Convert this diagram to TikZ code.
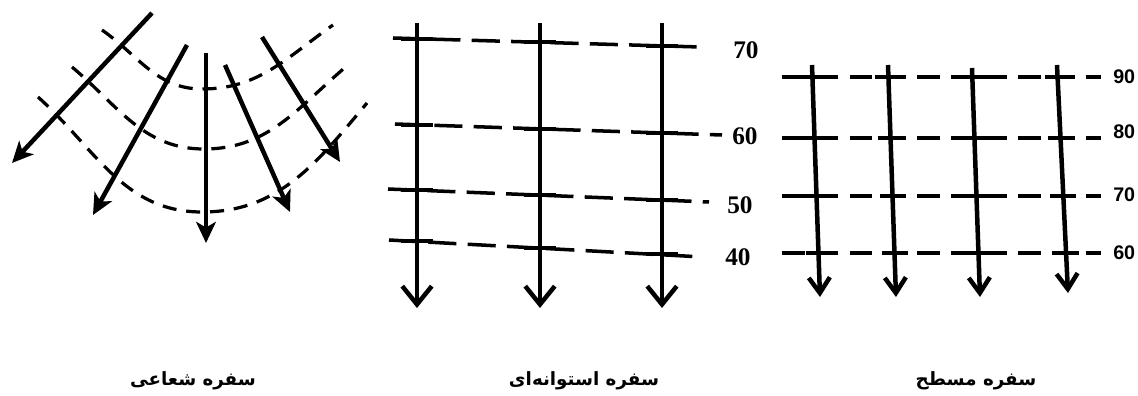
\documentclass[tikz,border=0pt]{standalone}
\usepackage{fontspec}
\setmainfont{Liberation Serif}
\newfontfamily\arialfont{Liberation Sans}
\newfontfamily\arabicfont[Script=Arabic]{DejaVu Sans}
\TeXXeTstate=1
\usetikzlibrary{arrows.meta}

\begin{document}
\begin{tikzpicture}[x=0.025cm, y=0.025cm,
    flow/.style={line width=3.2pt},
    rayhead/.style={-{Stealth[length=15pt,width=14pt,inset=4pt]}},
    cylhead/.style={-{Straight Barb[length=13pt,width=21pt]}},
    planehead/.style={-{Straight Barb[length=11pt,width=15pt]}},
    front/.style={line width=2.3pt, dash pattern=on 10pt off 7pt},
    cylline/.style={line width=2.5pt, dash pattern=on 20pt off 8pt},
    planeline/.style={line width=2.3pt, dash pattern=on 16pt off 8pt},
    crossmark/.style={line width=2.5pt},
    num/.style={anchor=west, inner sep=0pt, font=\bfseries\fontsize{18}{18}\selectfont},
    numsf/.style={anchor=west, inner sep=0pt, font=\arialfont\bfseries\fontsize{14}{14}\selectfont},
    caption/.style={inner sep=0pt, font=\arabicfont\bfseries\fontsize{13}{16}\selectfont}]
  \useasboundingbox (0,0) rectangle (1138,395);

  % radial flow
  \coordinate (r1s) at (152,382); \coordinate (r1e) at (12,232);
  \coordinate (r2s) at (187,350); \coordinate (r2e) at (93,180);
  \coordinate (r3s) at (206,342); \coordinate (r3e) at (206,152);
  \coordinate (r4s) at (225,330); \coordinate (r4e) at (290,183);
  \coordinate (r5s) at (262,358); \coordinate (r5e) at (340,233);
  \draw[front] (102,365) to[out=-35,in=180] (202,306) to[out=0,in=-145] (333,370);
  \draw[front] (72,328) to[out=-40,in=180] (204,246) to[out=0,in=-140] (348,330);
  \draw[front] (38,298) to[out=-42,in=180] (202,183) to[out=0,in=-130] (367,292);
  \draw[flow,rayhead] (r1s) -- (r1e);
  \draw[flow,rayhead] (r2s) -- (r2e);
  \draw[flow,rayhead] (r3s) -- (r3e);
  \draw[flow,rayhead] (r4s) -- (r4e);
  \draw[flow,rayhead] (r5s) -- (r5e);

  % cylindrical flow
  \coordinate (c1s) at (417,372); \coordinate (c1e) at (417,87);
  \coordinate (c2s) at (540,372); \coordinate (c2e) at (540,87);
  \coordinate (c3s) at (662,372); \coordinate (c3e) at (662,87);
  \node[num] (c70) at (733,345) {70};
  \node[num] (c60) at (732,259) {60};
  \node[num] (c50) at (727,190) {50};
  \node[num] (c40) at (725,138) {40};
  \draw[cylline] (393,357) -- (700,348);
  \draw[cylline] (395,271) -- (722,260);
  \draw[cylline] (388,206) -- (709,193);
  \draw[cylline] (389,155) -- (703,138);
  \foreach \x/\y in {417/356,540/353,662/349,417/270,540/266,662/262,
                     417/205,540/200,662/195,417/154,540/147,662/141}
    \draw[crossmark] (\x-16,\y) -- (\x+16,\y);
  \draw[flow,cylhead] (c1s) -- (c1e);
  \draw[flow,cylhead] (c2s) -- (c2e);
  \draw[flow,cylhead] (c3s) -- (c3e);

  % plane flow
  \coordinate (p1s) at (812,330); \coordinate (p1e) at (820,98);
  \coordinate (p2s) at (888,330); \coordinate (p2e) at (896,98);
  \coordinate (p3s) at (972,327); \coordinate (p3e) at (980,98);
  \coordinate (p4s) at (1057,330); \coordinate (p4e) at (1068,102);
  \node[numsf] (p90) at (1113,318) {90};
  \node[numsf] (p80) at (1113,263) {80};
  \node[numsf] (p70) at (1113,200) {70};
  \node[numsf] (p60) at (1113,142) {60};
  \draw[planeline] (782,318) -- (1101,318);
  \draw[planeline] (782,257) -- (1101,257);
  \draw[planeline] (782,199) -- (1101,199);
  \draw[planeline] (782,142) -- (1101,142);
  \foreach \y in {318,257,199,142}
    \foreach \x/\s in {812/8,888/8,972/8,1057/11}
      \draw[crossmark] ({\x+\s*(330-\y)/230-13},\y) -- ({\x+\s*(330-\y)/230+13},\y);
  \draw[flow,planehead] (p1s) -- (p1e);
  \draw[flow,planehead] (p2s) -- (p2e);
  \draw[flow,planehead] (p3s) -- (p3e);
  \draw[flow,planehead] (p4s) -- (p4e);

  % captions
  \node[caption] (tRad) at (193,14) {\beginR سفره شعاعی\endR};
  \node[caption] (tCyl) at (584,14) {\beginR سفره استوانه‌ای\endR};
  \node[caption] (tPln) at (976,14) {\beginR سفره مسطح\endR};
\end{tikzpicture}
\end{document}
